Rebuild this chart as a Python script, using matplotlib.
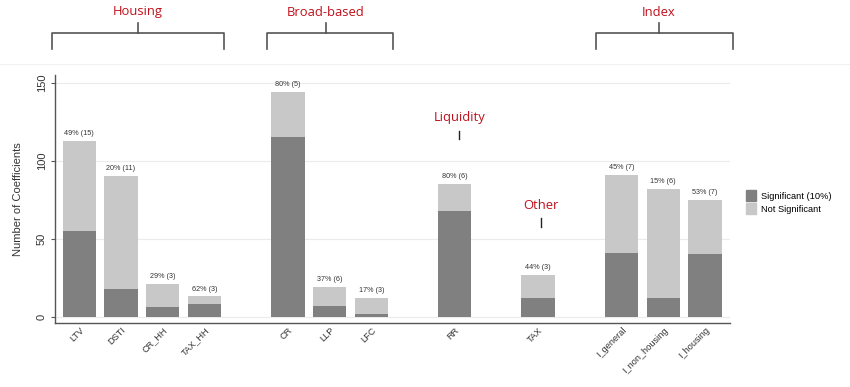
import matplotlib
matplotlib.use("Agg")
import matplotlib.pyplot as plt
from matplotlib.lines import Line2D
from matplotlib.patches import Patch

categories = ["LTV", "DSTI", "CR_HH", "TAX_HH", "CR", "LLP", "LFC", "RR", "TAX",
              "I_general", "I_non_housing", "I_housing"]
slots = [0, 1, 2, 3, 5, 6, 7, 9, 11, 13, 14, 15]
total = [113, 90, 21, 13, 144, 19, 12, 85, 27, 91, 82, 75]
significant = [55, 18, 6, 8, 115, 7, 2, 68, 12, 41, 12, 40]
bar_labels = ["49% (15)", "20% (11)", "29% (3)", "62% (3)", "80% (5)", "37% (6)",
              "17% (3)", "80% (6)", "44% (3)", "45% (7)", "15% (6)", "53% (7)"]
not_significant = [t - s for t, s in zip(total, significant)]

DARK = "#808080"
LIGHT = "#c8c8c8"
RED = "#c0101a"
W, H = 850, 387

fig = plt.figure(figsize=(8.5, 3.87), dpi=100)
ax = fig.add_axes([55 / W, (H - 323) / H, (730 - 55) / W, (323 - 75) / H])

ax.bar(slots, significant, width=0.8, color=DARK, zorder=2, label="Significant (10%)")
ax.bar(slots, not_significant, bottom=significant, width=0.8, color=LIGHT, zorder=2,
       label="Not Significant")
for x, t, lab in zip(slots, total, bar_labels):
    ax.text(x, t + 2.5, lab, ha="center", va="bottom", fontsize=5.2, color="#333333",
            family="Liberation Sans")

ax.set_xlim(-0.583, 15.6)
ax.set_ylim(-4, 155)
ax.set_yticks([0, 50, 100, 150])
ax.set_yticklabels(["0", "50", "100", "150"], rotation=90, va="center",
                   fontsize=8, family="Liberation Sans", color="#333333")
ax.set_xticks(slots)
ax.set_xticklabels(categories, rotation=45, ha="right", rotation_mode="anchor",
                   fontsize=6.6, family="Liberation Sans", color="#333333")
ax.tick_params(axis="x", length=0, pad=2)
ax.tick_params(axis="y", length=3, width=0.8, color="#555555", pad=3)
ax.set_ylabel("Number of Coefficients", fontsize=8, family="Liberation Sans",
              color="#333333", labelpad=10)
ax.grid(axis="y", color="#ebebeb", linewidth=0.8, zorder=0)
ax.set_axisbelow(True)
for s in ["top", "right"]:
    ax.spines[s].set_visible(False)
for s in ["left", "bottom"]:
    ax.spines[s].set_color("#555555")
    ax.spines[s].set_linewidth(1.0)

handles = [Patch(color=DARK, label="Significant (10%)"),
           Patch(color=LIGHT, label="Not Significant")]
fig.legend(handles=handles, loc="upper left", bbox_to_anchor=(738 / W, 1 - 182 / H),
           frameon=False, handlelength=1.0, handleheight=1.45,
           handletextpad=0.55, labelspacing=0.2,
           prop={"family": "Liberation Sans", "size": 6.7})

def fx(px):
    return px / W

def fy(py):
    return 1 - py / H

line_kw = dict(color="#555555", linewidth=1.2, transform=fig.transFigure)

brackets = [("Housing", 51.7, 224.5, 137.7), ("Broad-based", 266.5, 392.5, 325.5),
            ("Index", 595.7, 732.7, 659)]
for name, x0, x1, xc in brackets:
    fig.add_artist(Line2D([fx(x0), fx(x0), fx(x1), fx(x1)],
                          [fy(49), fy(32.7), fy(32.7), fy(49)], **line_kw))
    fig.add_artist(Line2D([fx(xc), fx(xc)], [fy(32.7), fy(22.5)], **line_kw))
    fig.text(fx(xc), fy(12), name, ha="center", va="center", color=RED,
             fontsize=9.4, family="Open Sans")

for name, xc, yt, y0, y1 in [("Liquidity", 459.3, 117.3, 130.7, 139.3),
                              ("Other", 541.3, 205.3, 218.3, 227.3)]:
    fig.text(fx(xc), fy(yt), name, ha="center", va="center", color=RED,
             fontsize=9.4, family="Open Sans")
    fig.add_artist(Line2D([fx(xc), fx(xc)], [fy(y0), fy(y1)], color="#222222",
                          linewidth=1.0, transform=fig.transFigure))

fig.add_artist(Line2D([0, 1], [fy(64), fy(64)], color="#f2f2f2", linewidth=0.8,
                      transform=fig.transFigure, zorder=0))

fig.savefig("out.png", dpi=100)
